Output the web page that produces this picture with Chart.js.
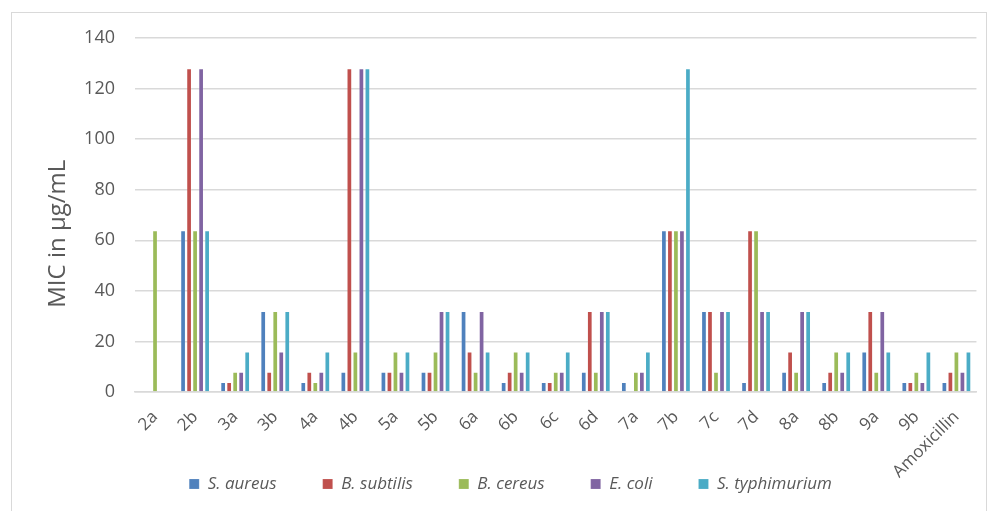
<!DOCTYPE html>
<html>
<head>
<meta charset="utf-8">
<script src="https://cdn.jsdelivr.net/npm/chart.js@4"></script>
<style>
  html, body { margin: 0; padding: 0; background: #fff; }
  #box { position: absolute; left: 11px; top: 12px; width: 976px; height: 505px; border: 1px solid #d9d9d9; box-sizing: border-box; }
</style>
</head>
<body>
<div id="box"><canvas id="myChart"></canvas></div>
<script>
// Verbindungen und MIC-Werte (µg/mL)
const compounds = ['2a','2b','3a','3b','4a','4b','5a','5b','6a','6b','6c','6d','7a','7b','7c','7d','8a','8b','9a','9b','Amoxicillin'];
const sAureus      = [null, 64, 4, 32, 4,   8, 8,  8, 32, 4, 4,  8, 4,  64, 32,  4,  8, 4, 16, 4, 4];
const bSubtilis    = [null,128, 4,  8, 8, 128, 8,  8, 16, 8, 4, 32, null, 64, 32, 64, 16, 8, 32, 4, 8];
const bCereus      = [64,   64, 8, 32, 4,  16,16, 16,  8,16, 8,  8, 8,  64,  8, 64,  8,16,  8, 8,16];
const eColi        = [null,128, 8, 16, 8, 128, 8, 32, 32, 8, 8, 32, 8,  64, 32, 32, 32, 8, 32, 4, 8];
const sTyphimurium = [null, 64,16, 32,16, 128,16, 32, 16,16,16, 32,16, 128, 32, 32, 32,16, 16,16,16];
const yTicks = [0, 20, 40, 60, 80, 100, 120, 140];

const font = "'Open Sans', 'Liberation Sans', sans-serif";
const grau = '#595959';
const legendPad = 46;
const legendFont = 17;

function ds(label, data, color) {
    return {
        label: label,
        data: data,
        backgroundColor: color,
        borderColor: 'rgba(255,255,255,0.15)',
        borderWidth: 1,
        barPercentage: 0.95,
        categoryPercentage: 0.75
    };
}

// Legende unter die schrägen Achsenbeschriftungen schieben (wie im Original überlappend)
const legendeVerschieben = {
    id: 'legendeVerschieben',
    afterLayout(chart) {
        const lg = chart.legend;
        const h = legendFont + legendPad + 10;
        lg.top = chart.chartArea.bottom + 92 - legendPad - legendFont / 2;
        lg.bottom = lg.top + h;
        lg.height = h;
    }
};

var ctx = document.getElementById('myChart').getContext('2d');
var myChart = new Chart(ctx, {
    type: 'bar',
    data: {
        labels: compounds,
        datasets: [
            ds('S. aureus', sAureus, '#4F81BD'),
            ds('B. subtilis', bSubtilis, '#C0504D'),
            ds('B. cereus', bCereus, '#9BBB59'),
            ds('E. coli', eColi, '#8064A2'),
            ds('S. typhimurium', sTyphimurium, '#4BACC6')
        ]
    },
    plugins: [legendeVerschieben],
    options: {
        responsive: true,
        maintainAspectRatio: false,
        animation: false,
        layout: { padding: { top: 25, right: 7, left: 30, bottom: 0 } },
        plugins: {
            tooltip: { enabled: false },
            legend: {
                position: 'bottom',
                maxHeight: 1,
                labels: {
                    boxWidth: 10,
                    boxHeight: 10,
                    padding: legendPad,
                    color: grau,
                    font: { family: font, size: legendFont, style: 'italic' }
                }
            }
        },
        scales: {
            x: {
                grid: { display: false, drawTicks: false },
                border: { color: '#d9d9d9', width: 1.5 },
                ticks: {
                    color: grau,
                    minRotation: 45,
                    maxRotation: 45,
                    padding: 15,
                    autoSkip: false,
                    font: { family: font, size: 17 }
                },
                afterFit: function(scale) { scale.height = 123; }
            },
            y: {
                min: 0,
                max: 140,
                afterBuildTicks: function(scale) { scale.ticks = yTicks.map(v => ({ value: v })); },
                afterFit: function(scale) {
                    scale.width = 93;
                    scale.paddingTop = 0;
                    scale.paddingBottom = 0;
                },
                grid: { color: '#d9d9d9', lineWidth: 1.5, drawTicks: false },
                border: { display: false },
                ticks: {
                    color: grau,
                    padding: 20,
                    font: { family: font, size: 18 }
                },
                title: {
                    display: true,
                    text: 'MIC in µg/mL      ',
                    color: grau,
                    padding: { top: 2, bottom: 0 },
                    font: { family: font, size: 24 }
                }
            }
        }
    }
});
</script>
</body>
</html>
